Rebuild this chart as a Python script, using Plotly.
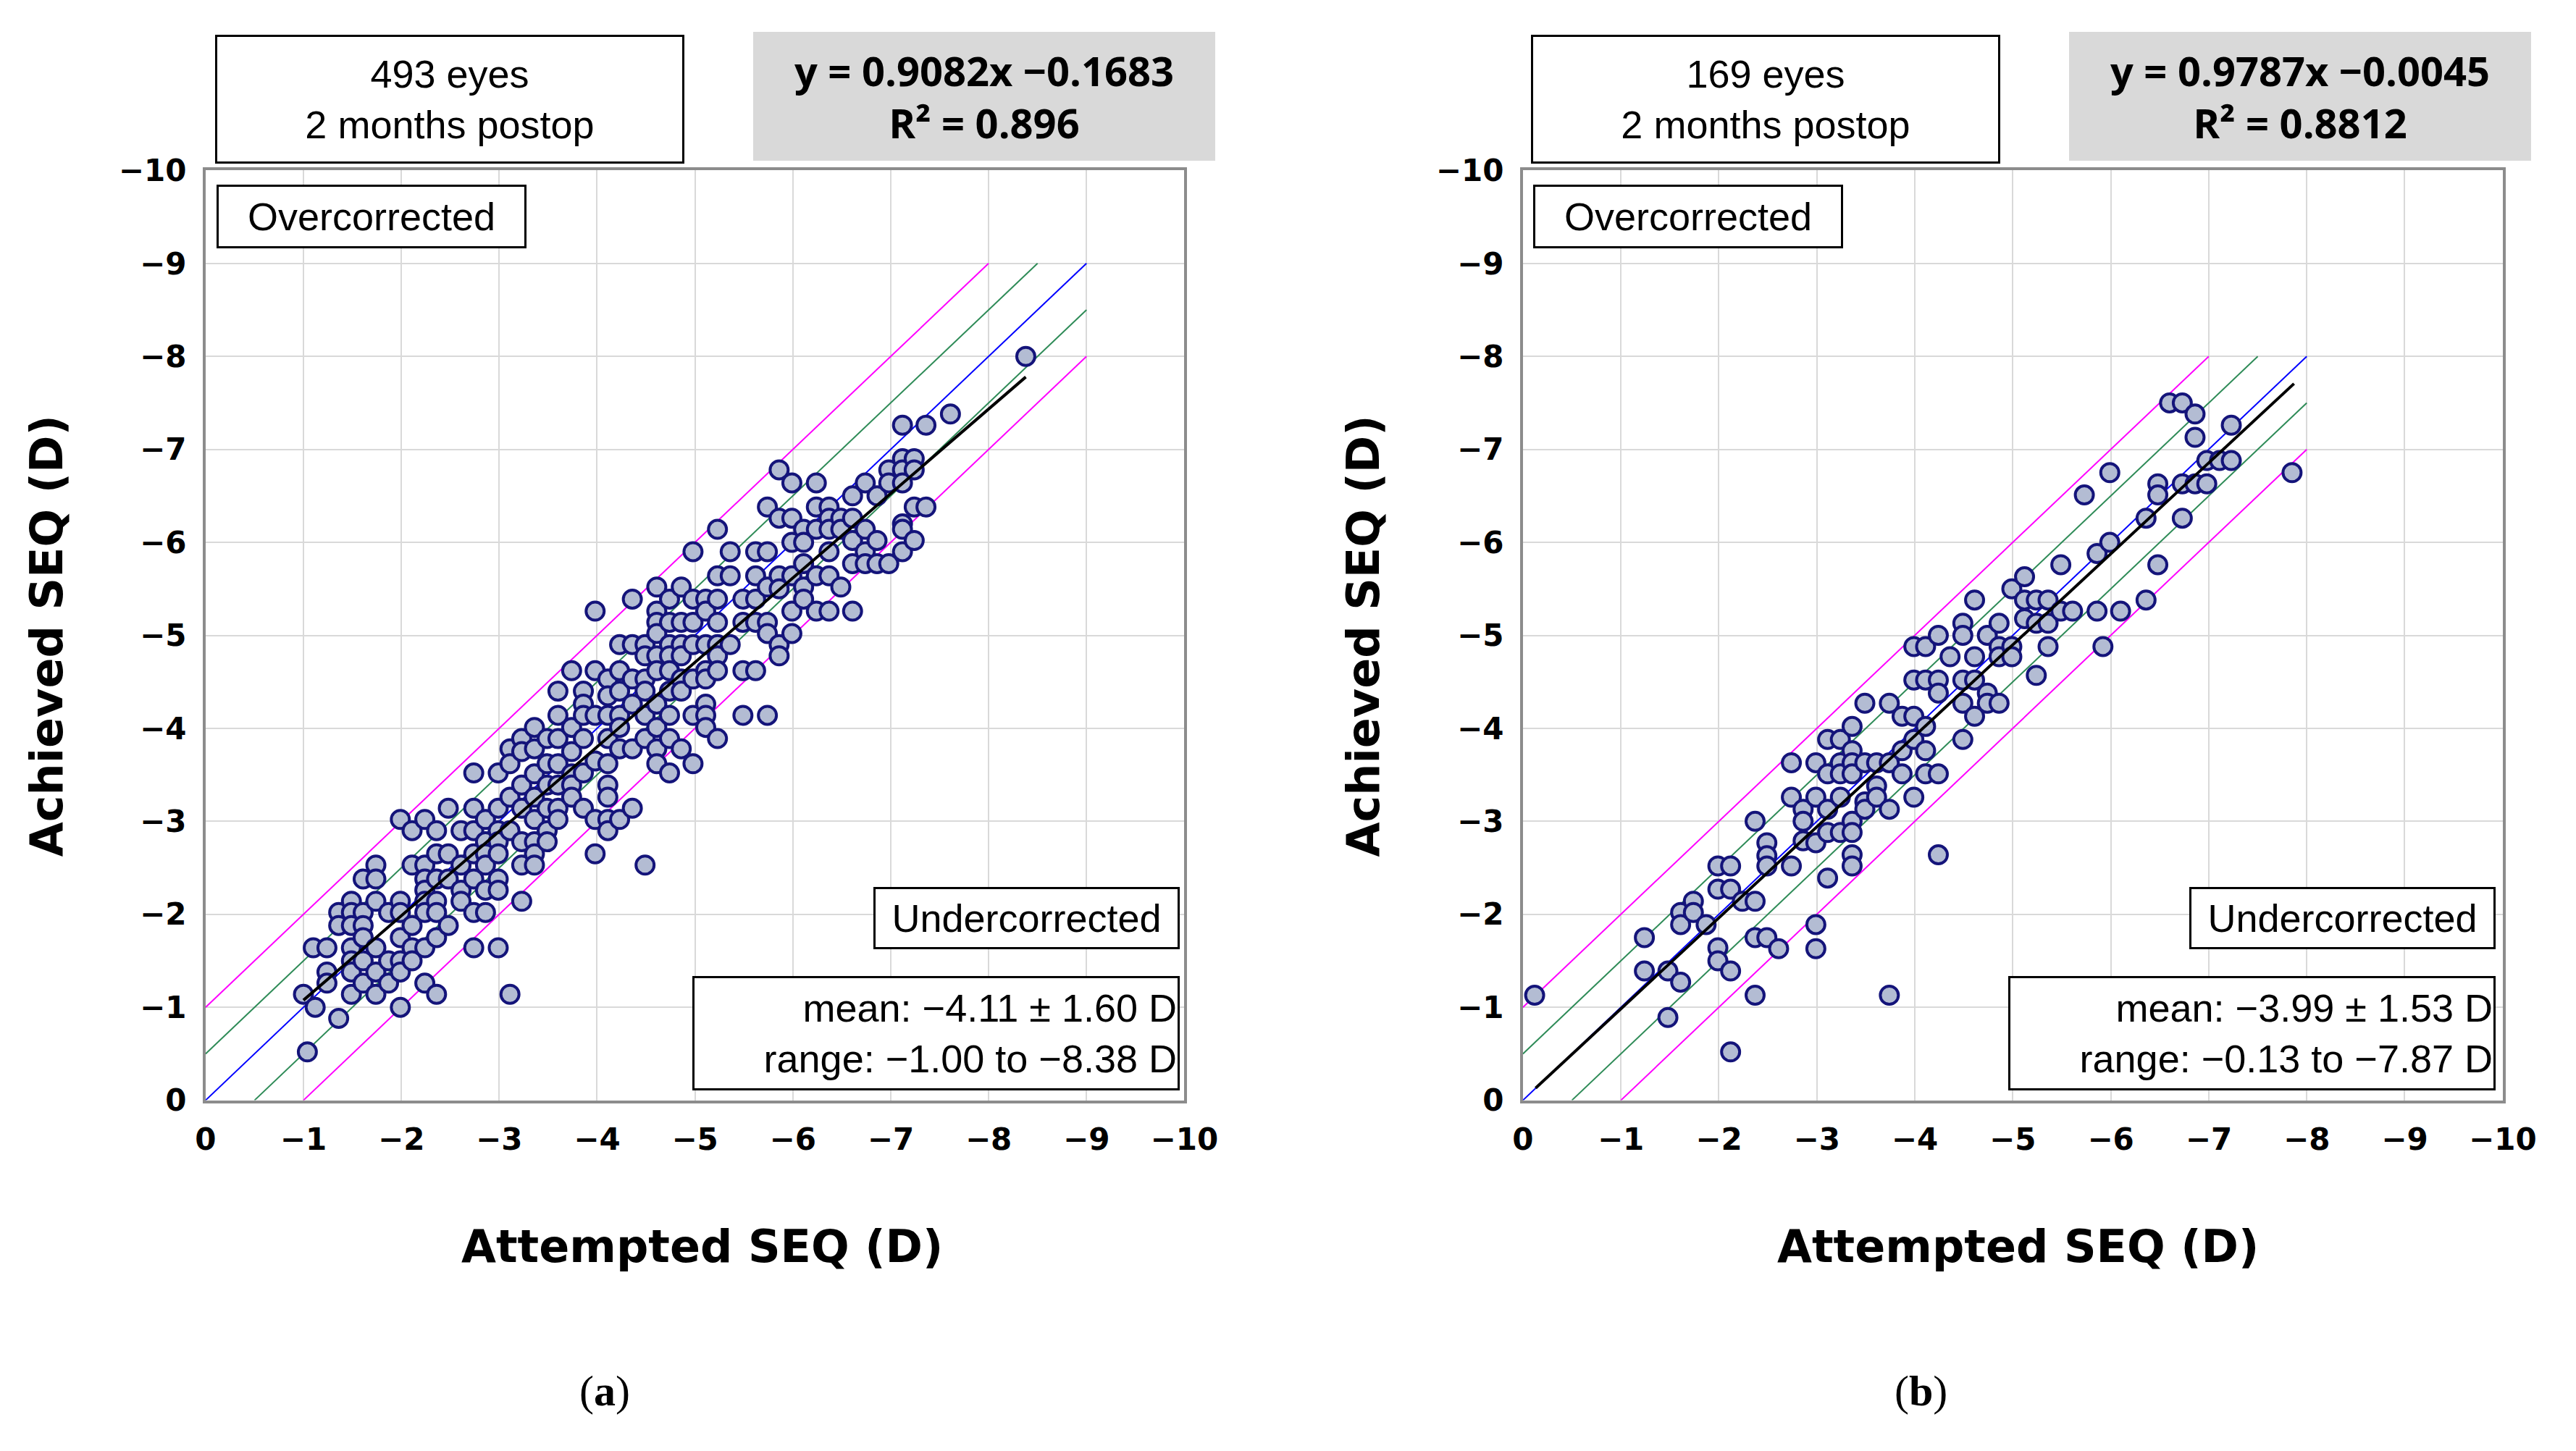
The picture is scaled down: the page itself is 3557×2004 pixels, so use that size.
import plotly.graph_objects as go

# panel (a) points as columns: x -> list of achieved y values
cols_a = {
    -1.00: [-1.14], -1.04: [-0.52], -1.12: [-1.0], -1.10: [-1.64],
    -1.24: [-1.64, -1.38, -1.26], -1.36: [-0.88, -2.02, -1.88],
    -1.49: [-2.14, -2.02, -1.88, -1.64, -1.5, -1.38, -1.14],
    -1.61: [-2.38, -2.02, -1.88, -1.75, -1.5, -1.26],
    -1.74: [-2.53, -2.38, -2.14, -1.64, -1.38, -1.14],
    -1.87: [-2.02, -1.5, -1.26],
    -1.99: [-3.02, -2.14, -2.02, -1.75, -1.5, -1.38, -1.0],
    -2.11: [-2.9, -2.53, -1.88, -1.64, -1.5],
    -2.24: [-3.02, -2.53, -2.38, -2.26, -2.14, -2.02, -1.64, -1.26],
    -2.36: [-2.9, -2.65, -2.38, -2.14, -2.02, -1.75, -1.14],
    -2.48: [-3.14, -2.65, -2.38, -1.88],
    -2.61: [-2.9, -2.53, -2.26, -2.14],
    -2.74: [-3.52, -3.14, -2.9, -2.65, -2.38, -2.02, -1.64],
    -2.86: [-3.02, -2.78, -2.65, -2.53, -2.26, -2.02],
    -2.99: [-3.52, -3.14, -2.9, -2.78, -2.65, -2.38, -2.26, -1.64],
    -3.11: [-3.78, -3.62, -3.26, -2.9, -1.14],
    -3.23: [-3.89, -3.75, -3.39, -3.14, -2.78, -2.53, -2.14],
    -3.36: [-4.01, -3.78, -3.51, -3.26, -3.02, -2.78, -2.65, -2.53],
    -3.49: [-3.89, -3.62, -3.39, -3.14, -2.9, -2.78],
    -3.60: [-4.4, -4.14, -3.89, -3.62, -3.39, -3.14, -3.02],
    -3.74: [-4.62, -4.01, -3.75, -3.51, -3.39, -3.26],
    -3.86: [-4.4, -4.26, -4.14, -3.89, -3.52, -3.14],
    -3.98: [-5.26, -4.62, -4.14, -3.65, -3.02, -2.65],
    -4.11: [-4.53, -4.35, -4.14, -3.89, -3.62, -3.39, -3.26, -3.02, -2.9],
    -4.23: [-4.9, -4.62, -4.4, -4.14, -4.01, -3.78, -3.02],
    -4.36: [-5.39, -4.9, -4.53, -4.26, -3.78, -3.14],
    -4.49: [-4.9, -4.78, -4.53, -4.4, -4.14, -3.89, -2.53],
    -4.61: [-5.52, -5.26, -5.14, -5.02, -4.78, -4.62, -4.26, -4.01, -3.78, -3.62],
    -4.74: [-5.39, -5.14, -4.9, -4.78, -4.62, -4.4, -4.14, -3.89, -3.52],
    -4.86: [-5.52, -5.14, -4.9, -4.78, -4.53, -4.4, -3.78],
    -4.98: [-5.9, -5.39, -5.14, -4.9, -4.53, -4.14, -3.62],
    -5.11: [-5.39, -5.26, -4.9, -4.62, -4.53, -4.26, -4.14, -4.01],
    -5.23: [-6.14, -5.64, -5.39, -5.14, -4.9, -4.78, -4.62, -3.89],
    -5.36: [-5.9, -5.64, -4.9],
    -5.49: [-5.39, -5.14, -4.62, -4.14],
    -5.62: [-5.9, -5.64, -5.39, -5.14, -4.62],
    -5.74: [-6.38, -5.9, -5.52, -5.14, -5.02, -4.14],
    -5.86: [-6.78, -6.26, -5.64, -5.5, -4.9, -4.78],
    -5.99: [-6.64, -6.26, -6.0, -5.64, -5.26, -5.02],
    -6.11: [-6.14, -6.0, -5.77, -5.52, -5.39],
    -6.24: [-6.64, -6.38, -6.14, -5.64, -5.26],
    -6.37: [-6.38, -6.26, -6.14, -5.9, -5.64, -5.26],
    -6.49: [-6.26, -6.14, -5.52],
    -6.61: [-6.5, -6.26, -6.02, -5.77, -5.26],
    -6.74: [-6.64, -6.14, -5.9, -5.77],
    -6.86: [-6.5, -6.02, -5.77],
    -6.98: [-6.78, -6.64, -5.77],
    -7.12: [-7.26, -6.9, -6.78, -6.64, -6.2, -6.14, -5.9],
    -7.24: [-6.9, -6.78, -6.38, -6.02],
    -7.36: [-7.26, -6.38],
    -7.61: [-7.38],
    -8.38: [-8.0],
}
att_a = [x for x, ys in cols_a.items() for _ in ys]
ach_a = [y for ys in cols_a.values() for y in ys]

att_b = [-0.12, -1.24, -1.24, -1.48, -1.61, -1.48, -1.61, -1.61, -1.74, -1.74, -1.87,
         -1.99, -1.99, -2.12, -2.12, -1.99, -1.99, -2.12, -2.12, -2.24, -2.37, -2.37,
         -2.37, -2.49, -2.37, -2.49, -2.49, -2.49, -2.61, -2.74, -2.74, -2.74,
         -2.86, -2.86, -2.86, -2.99, -2.99, -2.99, -2.99, -2.99,
         -3.11, -3.11, -3.11, -3.11, -3.11, -3.24, -3.24, -3.24, -3.24, -3.24,
         -3.36, -3.36, -3.36, -3.36, -3.36, -3.36, -3.36, -3.36,
         -3.49, -3.49, -3.49, -3.49, -3.61, -3.61, -3.61, -3.74, -3.74, -3.74, -3.74,
         -3.87, -3.87, -3.87, -3.99, -3.99, -3.99, -3.99, -3.99,
         -4.11, -4.11, -4.11, -4.11, -4.11, -4.24, -4.24, -4.24, -4.24, -4.24, -4.36,
         -4.49, -4.49, -4.49, -4.49, -4.49, -4.61, -4.61, -4.61, -4.61,
         -4.74, -4.74, -4.74, -4.86, -4.86, -4.86, -4.86, -4.99, -4.99, -4.99,
         -5.12, -5.12, -5.12, -5.24, -5.24, -5.24, -5.36, -5.36, -5.36, -5.49, -5.49,
         -5.61, -5.73, -5.86, -5.86, -5.92, -5.99, -5.99, -6.10, -6.36, -6.36,
         -6.48, -6.48, -6.48, -6.60, -6.73, -6.73, -6.73, -6.86, -6.86, -6.86,
         -6.98, -6.98, -7.11, -7.23, -7.23, -7.85]
ach_b = [-1.13, -1.75, -1.39, -1.39, -1.27, -0.89, -2.02, -1.89, -2.14, -2.02, -1.89,
         -2.52, -2.27, -2.52, -2.27, -1.64, -1.50, -1.39, -0.52, -2.14, -2.14, -3.00,
         -1.75, -1.75, -1.13, -2.77, -2.63, -2.52, -1.63, -3.63, -3.26, -2.52,
         -3.13, -3.00, -2.79, -3.63, -3.26, -2.77, -1.89, -1.63,
         -3.88, -3.51, -3.13, -2.88, -2.39, -3.88, -3.63, -3.26, -2.88, -3.51,
         -4.02, -3.76, -3.63, -3.51, -3.00, -2.88, -2.64, -2.52,
         -4.27, -3.63, -3.21, -3.13, -3.63, -3.38, -3.26, -4.27, -3.63, -3.13, -1.13,
         -4.13, -3.76, -3.51, -4.88, -4.52, -4.13, -3.88, -3.26,
         -4.88, -4.52, -4.02, -3.76, -3.51, -5.00, -4.52, -4.38, -3.51, -2.64, -4.77,
         -5.13, -5.00, -4.52, -4.27, -3.88, -5.38, -4.77, -4.52, -4.13,
         -5.00, -4.38, -4.27, -5.13, -4.88, -4.77, -4.27, -5.50, -4.88, -4.77,
         -5.63, -5.38, -5.18, -5.38, -5.13, -4.57, -5.38, -5.13, -4.88, -5.76, -5.26,
         -5.26, -6.51, -5.88, -5.26, -4.88, -6.75, -6.00, -5.26, -6.26, -5.38,
         -6.63, -6.51, -5.76, -7.50, -7.50, -6.63, -6.26, -7.38, -7.13, -6.63,
         -6.88, -6.63, -6.88, -6.88, -7.26, -6.75]

panels = [
    dict(att=att_a, ach=ach_a, eyes="493 eyes", eq="y = 0.9082x \u22120.1683", r2="R\u00b2 = 0.896",
         slope=0.9082, icpt=-0.1683, xr=(-1.0, -8.38), lim=-9,
         mean="mean: \u22124.11 \u00b1 1.60 D", rng="range: \u22121.00 to \u22128.38 D", tag="a"),
    dict(att=att_b, ach=ach_b, eyes="169 eyes", eq="y = 0.9787x \u22120.0045", r2="R\u00b2 = 0.8812",
         slope=0.9787, icpt=-0.0045, xr=(-0.13, -7.87), lim=-8,
         mean="mean: \u22123.99 \u00b1 1.53 D", rng="range: \u22120.13 to \u22127.87 D", tag="b"),
]

tickvals = list(range(0, -11, -1))
ticktext = ["0"] + ["\u2212%d" % i for i in range(1, 11)]

fig = go.Figure()
doms = [(0.0750, 0.4636), (0.5980, 0.9870)]
ann = []
for i, p in enumerate(panels):
    xa = "x" if i == 0 else "x2"
    ya = "y" if i == 0 else "y2"
    L = p["lim"]
    refs = [(0, -1, L + 1, L, "magenta"), (0, -0.5, L + 0.5, L, "seagreen"), (0, 0, L, L, "blue"),
            (-0.5, 0, L, L + 0.5, "seagreen"), (-1, 0, L, L + 1, "magenta")]
    for x0, y0, x1, y1, c in refs:
        fig.add_trace(go.Scatter(x=[x0, x1], y=[y0, y1], mode="lines", line=dict(color=c, width=2),
                                 xaxis=xa, yaxis=ya, showlegend=False, hoverinfo="skip"))
    fig.add_trace(go.Scatter(x=p["att"], y=p["ach"], mode="markers", xaxis=xa, yaxis=ya, showlegend=False,
                             marker=dict(size=25, color="#b3bcd3", line=dict(color="#14147a", width=4))))
    rx = list(p["xr"])
    fig.add_trace(go.Scatter(x=rx, y=[p["slope"] * v + p["icpt"] for v in rx], mode="lines",
                             line=dict(color="black", width=4), xaxis=xa, yaxis=ya, showlegend=False))
    ax = dict(range=[0, -10], tickvals=tickvals, ticktext=ticktext, showgrid=True, gridcolor="#d9d9d9",
              gridwidth=2, zeroline=False, showline=True, linecolor="#8c8c8c", linewidth=4, mirror=True,
              tickfont=dict(family="DejaVu Sans", size=42, color="black", weight="bold"),
              ticks="outside", ticklen=14, tickcolor="rgba(0,0,0,0)")
    fig.update_layout(**{("xaxis" if i == 0 else "xaxis2"): dict(ax, domain=doms[i], anchor=ya),
                         ("yaxis" if i == 0 else "yaxis2"): dict(ax, domain=[0.232, 0.895], anchor=xa)})
    off = 0.5225 * i
    box = dict(xref="paper", yref="paper", showarrow=False, borderwidth=3, bordercolor="black",
               bgcolor="white", xanchor="center", yanchor="middle",
               font=dict(family="Liberation Sans", size=54, color="black"))
    txt = dict(xref="paper", yref="paper", showarrow=False, xanchor="center", yanchor="middle")
    ann += [
        dict(box, x=0.1720 + off, y=0.946, text=p["eyes"] + "<br>2 months postop", width=640, height=170),
        dict(box, x=0.3840 + off, y=0.948, text="<b>%s<br>%s</b>" % (p["eq"], p["r2"]), bgcolor="#d9d9d9",
             borderwidth=0, width=636, height=176, font=dict(family="Open Sans", size=56, color="black")),
        dict(box, x=0.1410 + off, y=0.862, text="Overcorrected", width=420, height=80),
        dict(box, x=0.4010 + off, y=0.362, text="Undercorrected", width=415, height=78),
        dict(box, x=0.3650 + off, y=0.280, text=p["mean"] + "<br>" + p["rng"], width=665, height=150,
             align="right"),
        dict(txt, x=0.2720 + off, y=0.128, text="<b>Attempted SEQ (D)</b>",
             font=dict(family="DejaVu Sans", size=62, color="black")),
        dict(txt, x=0.012 + off, y=0.563, textangle=-90,
             text="<b>Achieved SEQ (D)</b>", font=dict(family="DejaVu Sans", size=62, color="black")),
        dict(txt, x=0.2335 + off, y=0.025, text="(<b>%s</b>)" % p["tag"],
             font=dict(family="Liberation Serif", size=60, color="black")),
    ]

fig.update_layout(width=3540, height=1986, margin=dict(l=0, r=0, t=0, b=0), plot_bgcolor="white",
                  paper_bgcolor="white", annotations=ann)
fig.write_html("out.html")
